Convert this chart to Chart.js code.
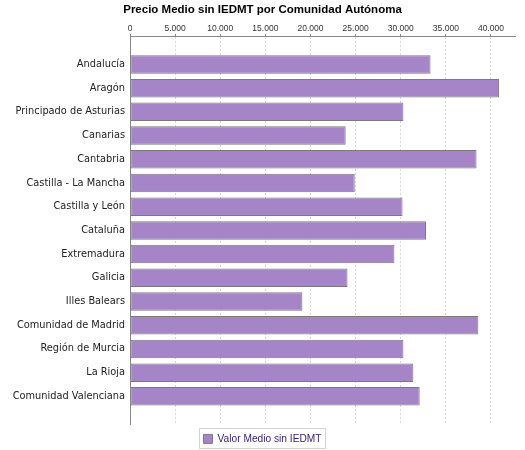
<!DOCTYPE html>
<html>
<head>
<meta charset="utf-8">
<script src="https://cdn.jsdelivr.net/npm/chart.js@4/dist/chart.umd.min.js"></script>
<style>
  body { margin: 0; background: #fff; }
  canvas { display: block; }
</style>
</head>
<body>
<canvas id="chart" width="525" height="450"></canvas>
<script>
// comunidades (de arriba a abajo)
const comunidades = [
  "Andalucía",
  "Aragón",
  "Principado de Asturias",
  "Canarias",
  "Cantabria",
  "Castilla - La Mancha",
  "Castilla y León",
  "Cataluña",
  "Extremadura",
  "Galicia",
  "Illes Balears",
  "Comunidad de Madrid",
  "Región de Murcia",
  "La Rioja",
  "Comunidad Valenciana",
];

// valor medio sin IEDMT (euros)
const valorMedio = [
  33300, 40900, 30300, 23900, 38400, 24900, 30200, 32800,
  29300, 24100, 19100, 38600, 30300, 31400, 32100,
];

// marcas del eje superior
const ticksX = [0, 5000, 10000, 15000, 20000, 25000, 30000, 35000, 40000];

const fmtMiles = (v) => String(v).replace(/\B(?=(\d{3})+(?!\d))/g, ".");

// recuadro alrededor de la leyenda
const legendBox = {
  id: "legendBox",
  afterDraw(chart) {
    const hb = chart.legend && chart.legend.legendHitBoxes[0];
    if (!hb) return;
    const ctx = chart.ctx;
    ctx.save();
    ctx.strokeStyle = "#d4d4d4";
    ctx.lineWidth = 1;
    ctx.strokeRect(
      Math.round(hb.left) - 3.5,
      Math.round(hb.top) - 5.5,
      Math.round(hb.width) + 8,
      Math.round(hb.height) + 10
    );
    ctx.restore();
  },
};

Chart.defaults.font.family = "'DejaVu Sans', sans-serif";

new Chart(document.getElementById("chart"), {
  type: "bar",
  data: {
    datasets: [
      {
        label: "Valor Medio sin IEDMT",
        data: valorMedio.map((v, i) => ({ x: v, y: i })),
        backgroundColor: "rgb(165, 133, 200)",
        borderColor: "#7a7a7a",
        borderWidth: 1,
        borderSkipped: false,
        barPercentage: 0.78,
        categoryPercentage: 1,
      },
    ],
  },
  options: {
    indexAxis: "y",
    responsive: false,
    animation: false,
    layout: { padding: { left: 10, right: 10, top: 0, bottom: -4 } },
    plugins: {
      title: {
        display: true,
        text: "Precio Medio sin IEDMT por Comunidad Autónoma",
        color: "#000",
        font: { family: "'Liberation Sans', Arial, sans-serif", size: 11.5, weight: "bold" },
        padding: { top: 3, bottom: 0 },
      },
      legend: {
        position: "bottom",
        labels: {
          boxWidth: 9,
          boxHeight: 9,
          padding: 9,
          color: "#3a1d6e",
          font: { family: "'Liberation Sans', Arial, sans-serif", size: 10.2 },
        },
      },
      tooltip: { enabled: false },
    },
    scales: {
      x: {
        type: "linear",
        position: "top",
        min: 0,
        max: 42660,
        afterBuildTicks: (s) => {
          s.ticks = ticksX.map((v) => ({ value: v }));
        },
        afterFit: (s) => {
          const t = s.chart.titleBlock ? s.chart.titleBlock.height : 17;
          s.height = 36 - t;
        },
        ticks: {
          color: "#333",
          padding: 0,
          maxRotation: 0,
          font: { family: "'Liberation Sans', Arial, sans-serif", size: 8.5 },
          callback: (v) => fmtMiles(v),
        },
        grid: {
          color: "#d6d6d6",
          tickLength: 2,
          tickColor: "#888",
          tickBorderDash: [],
        },
        border: { display: true, color: "#888", width: 1, dash: [2, 2] },
      },
      y: {
        type: "linear",
        reverse: true,
        offset: false,
        min: -1.2,
        max: 15.2,
        afterBuildTicks: (s) => {
          s.ticks = comunidades.map((c, i) => ({ value: i }));
        },
        afterFit: (s) => {
          s.width = 120;
        },
        ticks: {
          autoSkip: false,
          color: "#222",
          padding: 5,
          font: { size: 9.8 },
          callback: (v) => comunidades[v] || "",
        },
        grid: { display: false, drawTicks: false, tickLength: 0 },
        border: { display: true, color: "#888", width: 1 },
      },
    },
  },
  plugins: [legendBox],
});
</script>
</body>
</html>
